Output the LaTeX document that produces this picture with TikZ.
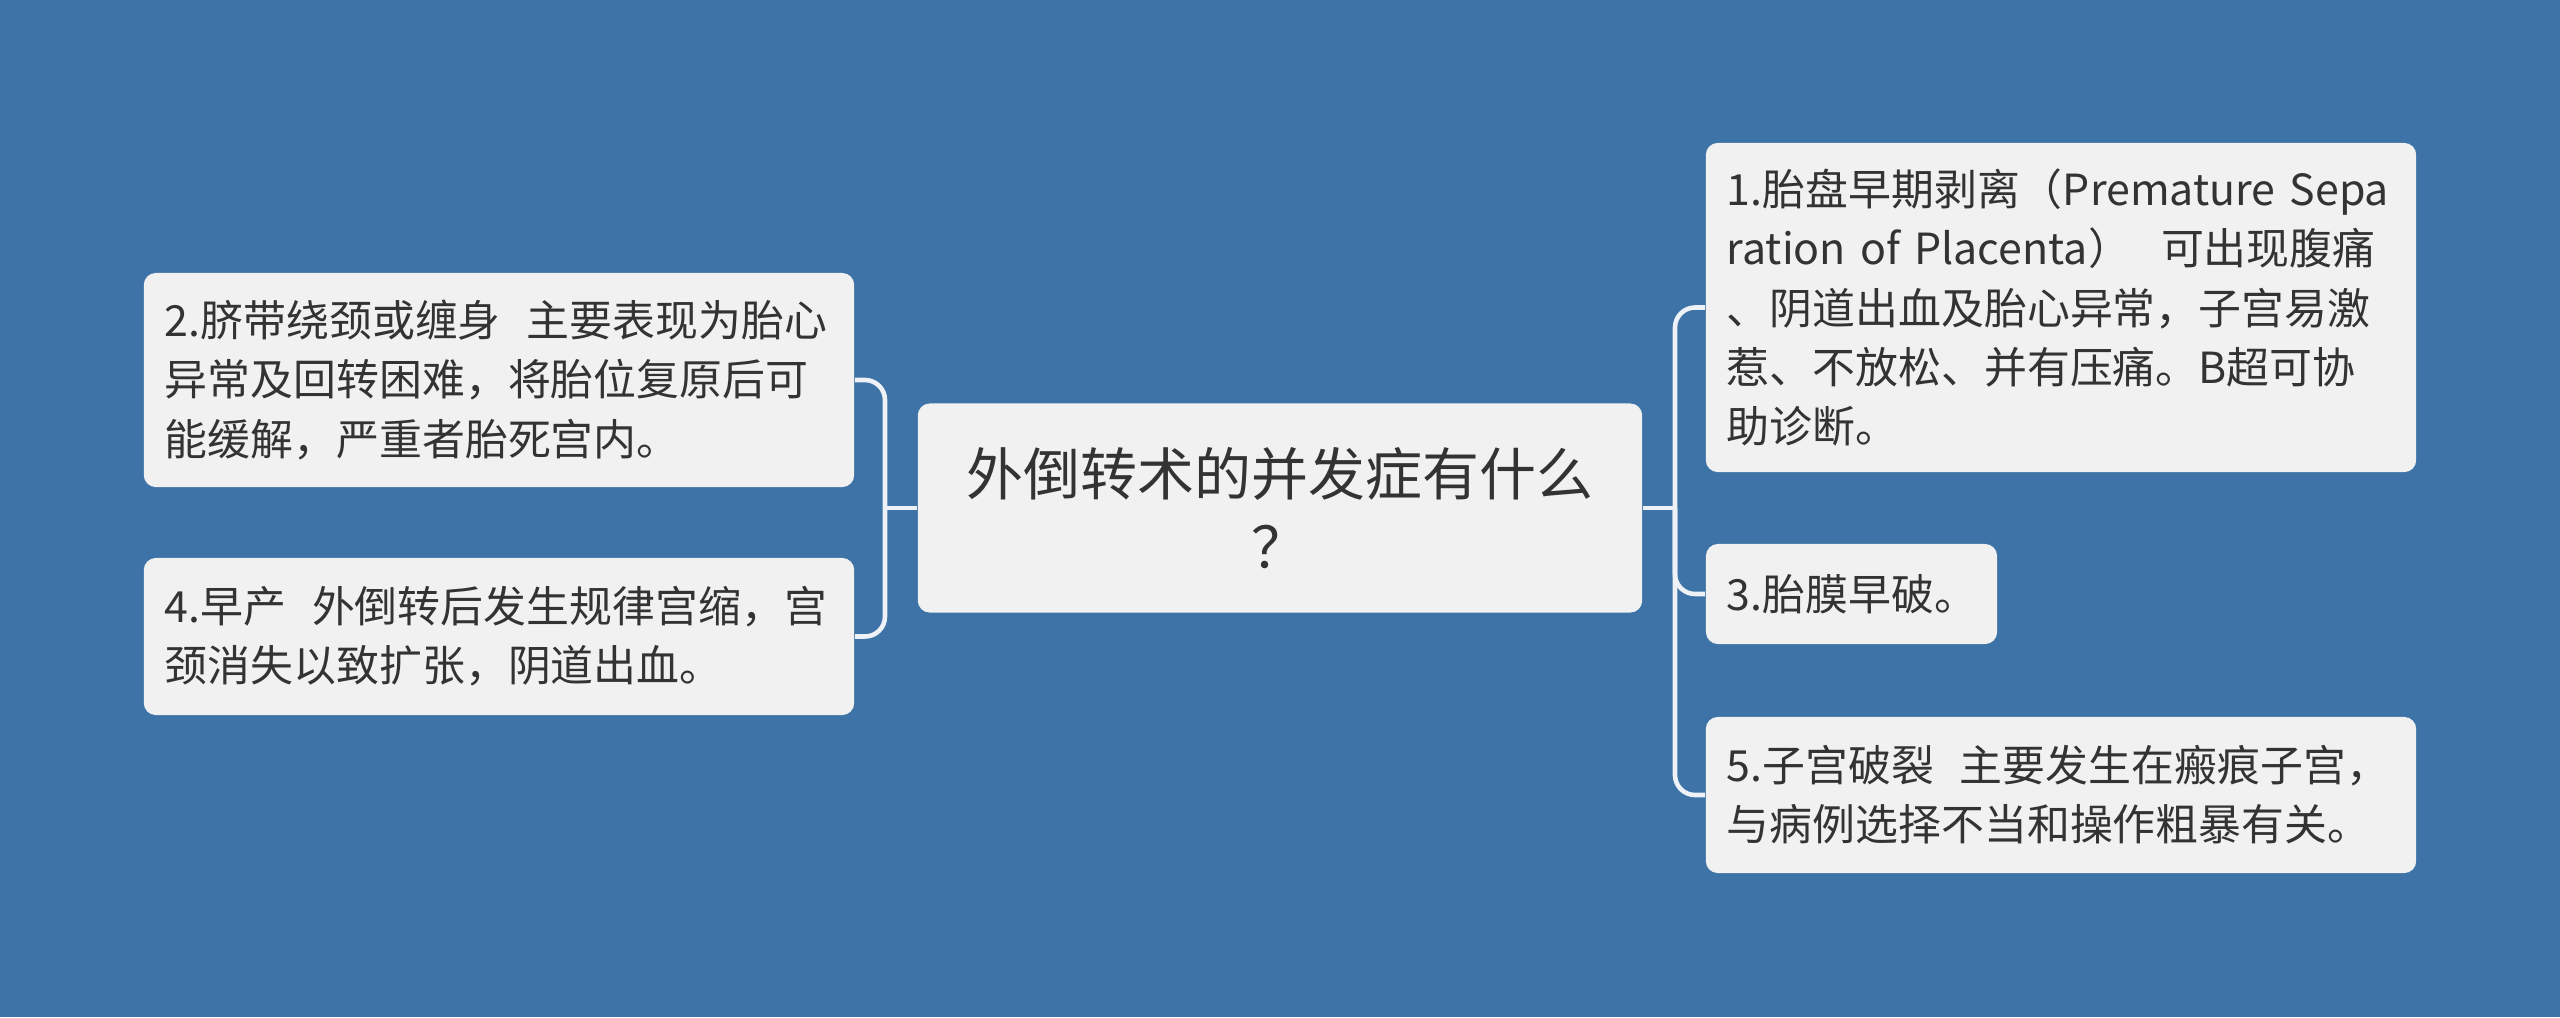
\documentclass[tikz,border=0pt]{standalone}
\usepackage{fontspec}
\newfontfamily\cjk{Noto Sans CJK SC}
\definecolor{bgblue}{RGB}{61,115,166}
\definecolor{boxgray}{RGB}{241,241,241}
\definecolor{textgray}{RGB}{51,51,51}
\definecolor{linkwhite}{RGB}{238,242,246}
\begin{document}
\begin{tikzpicture}[
    x=0.01cm, y=-0.01cm,
    topic/.style={
        fill=boxgray,
        rounded corners=0.12cm,
        inner xsep=0.21cm, inner ysep=0pt,
        minimum height=2.09cm,
        text width=6.82cm,
        align=center,
        text=textgray,
        font=\cjk\fontsize{16.2}{20.7}\selectfont
    },
    leaf/.style={
        fill=boxgray,
        rounded corners=0.12cm,
        inner xsep=0.21cm, inner ysep=0pt,
        text width=6.68cm,
        align=left,
        text=textgray,
        font=\cjk\fontsize{12.2}{16.8}\selectfont
    },
    link/.style={draw=linkwhite, line width=1.3pt, rounded corners=0.2cm}
]
    \fill[bgblue] (0,0) rectangle (2560,1017);

    \node[topic] (topic) at (1280,508)
        {外倒转术的并发症有什么\\？};

    \node[leaf, minimum height=2.14cm] (cord) at (499,380)
        {2.脐带绕颈或缠身\hspace{0.6em}主要表现为胎心\\异常及回转困难，将胎位复原后可\\能缓解，严重者胎死宫内。};

    \node[leaf, minimum height=1.57cm] (preterm) at (499,636.5)
        {4.早产\hspace{0.6em}外倒转后发生规律宫缩，宫\\颈消失以致扩张，阴道出血。};

    \node[leaf, minimum height=3.29cm] (abruption) at (2061,307.5)
        {1.胎盘早期剥离（Premature Sepa\\ration of Placenta）\hspace{0.7em}可出现腹痛\\、阴道出血及胎心异常，子宫易激\\惹、不放松、并有压痛。B超可协\\助诊断。};

    \node[leaf, minimum height=1.00cm, text width=2.49cm] (membrane) at (1851.5,594)
        {3.胎膜早破。};

    \node[leaf, minimum height=1.56cm] (rupture) at (2061,795)
        {5.子宫破裂\hspace{0.6em}主要发生在瘢痕子宫，\\与病例选择不当和操作粗暴有关。};

    \coordinate (lj) at (885,508);
    \coordinate (rj) at (1675,508);

    \draw[link] (topic.west) -- (lj);
    \draw[link] (topic.east) -- (rj);
    \foreach \n in {cord, preterm}
        \draw[link] (lj) |- (\n.east);
    \foreach \n in {abruption, membrane, rupture}
        \draw[link] (rj) |- (\n.west);
\end{tikzpicture}
\end{document}
